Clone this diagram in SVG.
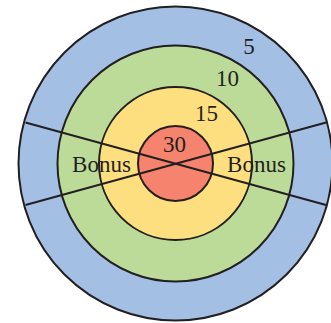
<svg xmlns="http://www.w3.org/2000/svg" width="331" height="323" viewBox="0 0 331 323">
<style>
.ring{stroke:#231f20;stroke-width:2}
.ln{stroke:#231f20;stroke-width:2;fill:none}
text{font-family:"Liberation Serif","Times New Roman",serif;font-size:23px;fill:#231f20;text-anchor:middle}
</style>
<rect width="331" height="323" fill="#ffffff"/>
<g id="ring5"><circle class="ring" cx="175.5" cy="163.5" r="157" fill="#a3bfe3"/></g>
<g id="ring10"><circle class="ring" cx="175.5" cy="163.5" r="118" fill="#bddb98"/></g>
<g id="ring15"><circle class="ring" cx="175.5" cy="163.5" r="76.5" fill="#fddf7f"/></g>
<g id="ring30"><circle class="ring" cx="175.5" cy="163.5" r="37.5" fill="#f5836d"/></g>
<g id="connectors">
<line class="ln" x1="25.5" y1="122.5" x2="326" y2="205"/>
<line class="ln" x1="25.5" y1="205" x2="326" y2="122.5"/>
</g>
<g id="labels">
<text x="249" y="54">5</text>
<text x="227.5" y="86">10</text>
<text x="206.5" y="121">15</text>
<text x="174.5" y="152">30</text>
<text x="101.5" y="171.5">Bonus</text>
<text x="256.5" y="171.5">Bonus</text>
</g>
</svg>
